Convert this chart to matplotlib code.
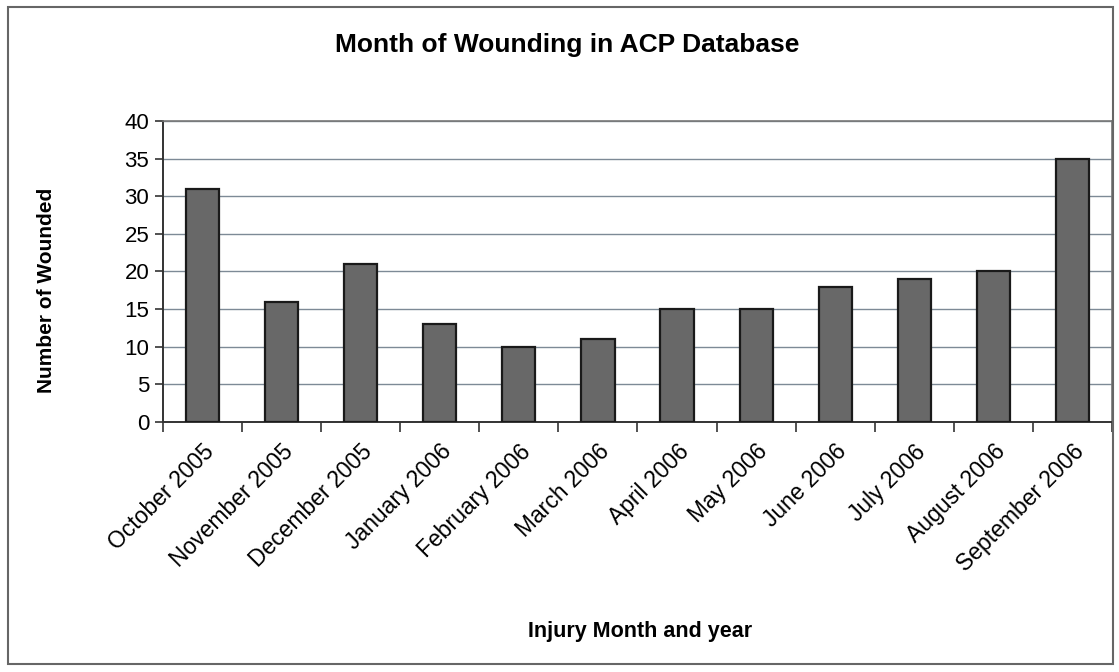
import matplotlib.pyplot as plt
from matplotlib.patches import Rectangle
import numpy as np

plt.rcParams['font.family'] = ['Liberation Sans', 'DejaVu Sans']

# datos
meses = ['October 2005', 'November 2005', 'December 2005', 'January 2006',
         'February 2006', 'March 2006', 'April 2006', 'May 2006',
         'June 2006', 'July 2006', 'August 2006', 'September 2006']
heridos = [31, 16, 21, 13, 10, 11, 15, 15, 18, 19, 20, 35]

fig = plt.figure(figsize=(11.19, 6.72), dpi=100)
ax = fig.add_axes([0.1457, 0.372, 0.848, 0.448])

x = np.arange(len(meses))
ax.bar(x, heridos, width=0.42, color='#686868', edgecolor='#1a1a1a', linewidth=1.6, zorder=3)

ax.set_xlim(-0.5, len(meses) - 0.5)
ax.set_ylim(0, 40)
ax.set_yticks(np.arange(0, 41, 5))
ax.yaxis.grid(True, color='#7d8a96', linewidth=1.0, zorder=0)

# ticks del eje x en los limites de cada categoria
ax.set_xticks(np.arange(-0.5, len(meses), 1.0))
ax.set_xticklabels([])
ax.set_xticks(x, minor=True)
ax.set_xticklabels(meses, minor=True, rotation=45, ha='right', rotation_mode='anchor', fontsize=16.5)
ax.tick_params(axis='x', which='minor', length=0, pad=13)
ax.tick_params(axis='x', which='major', length=7, width=1.2, color='#333333', direction='out')
ax.tick_params(axis='y', length=6, width=1.2, color='#333333', labelsize=16, pad=4)

for lado in ['left', 'bottom']:
    ax.spines[lado].set_color('#333333')
    ax.spines[lado].set_linewidth(1.4)
for lado in ['top', 'right']:
    ax.spines[lado].set_color('#777777')
    ax.spines[lado].set_linewidth(1.2)

fig.text(0.042, 0.568, 'Number of Wounded', ha='center', va='center', rotation=90,
         fontsize=15, fontweight='bold')
fig.text(0.572, 0.06, 'Injury Month and year', ha='center', va='center', fontsize=15.5, fontweight='bold')
fig.text(0.507, 0.933, 'Month of Wounding in ACP Database', ha='center', va='center',
         fontsize=19, fontweight='bold')

# borde exterior del grafico
fig.patches.append(Rectangle((0.007, 0.012), 0.988, 0.978, transform=fig.transFigure,
                             fill=False, edgecolor='#666666', linewidth=1.5))

plt.savefig('out.png', dpi=100)
